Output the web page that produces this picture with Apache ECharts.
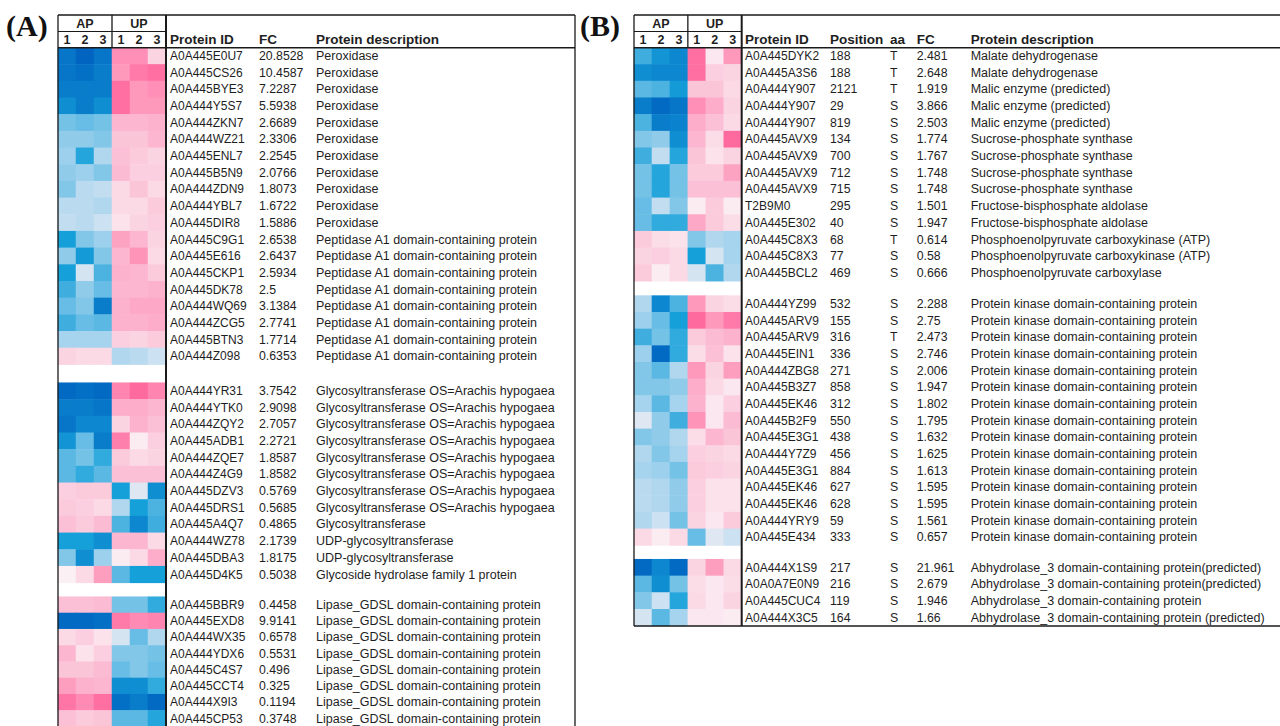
<!DOCTYPE html>
<html><head><meta charset="utf-8">
<script src="https://cdn.jsdelivr.net/npm/echarts@6/dist/echarts.min.js"></script>
<style>html,body{margin:0;padding:0;background:#fff}#c{width:1280px;height:726px}</style>
</head><body><div id="c"></div><script>
// ---------- tick / header labels ----------
const sampleCols = ['1', '2', '3', '1', '2', '3'];
const groupLabels = ['AP', 'UP'];
const headersA = ['Protein ID', 'FC', 'Protein description'];
const headersB = ['Protein ID', 'Position', 'aa', 'FC', 'Protein description'];

// ---------- Panel A (null = separator row) ----------
const protIdA = [
 'A0A445E0U7','A0A445CS26','A0A445BYE3','A0A444Y5S7','A0A444ZKN7','A0A444WZ21','A0A445ENL7','A0A445B5N9','A0A444ZDN9','A0A444YBL7','A0A445DIR8',
 'A0A445C9G1','A0A445E616','A0A445CKP1','A0A445DK78','A0A444WQ69','A0A444ZCG5','A0A445BTN3','A0A444Z098',
 null,
 'A0A444YR31','A0A444YTK0','A0A444ZQY2','A0A445ADB1','A0A444ZQE7','A0A444Z4G9','A0A445DZV3','A0A445DRS1','A0A445A4Q7','A0A444WZ78','A0A445DBA3','A0A445D4K5',
 null,
 'A0A445BBR9','A0A445EXD8','A0A444WX35','A0A444YDX6','A0A445C4S7','A0A445CCT4','A0A444X9I3','A0A445CP53'
];
const fcA = [
 '20.8528','10.4587','7.2287','5.5938','2.6689','2.3306','2.2545','2.0766','1.8073','1.6722','1.5886',
 '2.6538','2.6437','2.5934','2.5','3.1384','2.7741','1.7714','0.6353',
 null,
 '3.7542','2.9098','2.7057','2.2721','1.8587','1.8582','0.5769','0.5685','0.4865','2.1739','1.8175','0.5038',
 null,
 '0.4458','9.9141','0.6578','0.5531','0.496','0.325','0.1194','0.3748'
];
const descA = [
 'Peroxidase','Peroxidase','Peroxidase','Peroxidase','Peroxidase','Peroxidase','Peroxidase','Peroxidase','Peroxidase','Peroxidase','Peroxidase',
 'Peptidase A1 domain-containing protein','Peptidase A1 domain-containing protein','Peptidase A1 domain-containing protein','Peptidase A1 domain-containing protein',
 'Peptidase A1 domain-containing protein','Peptidase A1 domain-containing protein','Peptidase A1 domain-containing protein','Peptidase A1 domain-containing protein',
 null,
 'Glycosyltransferase OS=Arachis hypogaea','Glycosyltransferase OS=Arachis hypogaea','Glycosyltransferase OS=Arachis hypogaea','Glycosyltransferase OS=Arachis hypogaea',
 'Glycosyltransferase OS=Arachis hypogaea','Glycosyltransferase OS=Arachis hypogaea','Glycosyltransferase OS=Arachis hypogaea','Glycosyltransferase OS=Arachis hypogaea',
 'Glycosyltransferase','UDP-glycosyltransferase','UDP-glycosyltransferase','Glycoside hydrolase family 1 protein',
 null,
 'Lipase_GDSL domain-containing protein','Lipase_GDSL domain-containing protein','Lipase_GDSL domain-containing protein','Lipase_GDSL domain-containing protein',
 'Lipase_GDSL domain-containing protein','Lipase_GDSL domain-containing protein','Lipase_GDSL domain-containing protein','Lipase_GDSL domain-containing protein'
];
// relative abundance (AP1, AP2, AP3, UP1, UP2, UP3); negative = blue, positive = pink
const heatA = [
 [-2.7,-3.0,-2.7, 2.0, 2.0, 0.6],
 [-2.7,-2.8,-2.6, 1.8, 2.4, 2.6],
 [-2.6,-2.6,-2.6, 2.6, 1.8, 2.0],
 [-2.3,-2.6,-2.3, 2.6, 1.8, 1.8],
 [-1.3,-1.4,-1.3, 1.2, 1.2, 1.3],
 [-1.1,-1.1,-1.2, 0.9, 0.9, 1.2],
 [-1.0,-1.9,-0.8, 1.0, 0.8, 0.6],
 [-1.1,-1.0,-1.2, 1.1, 0.7, 0.7],
 [-1.2,-0.7,-0.6, 0.5, 0.9, 0.5],
 [-0.7,-0.7,-0.8, 0.5, 0.5, 0.8],
 [-0.6,-0.7,-0.5, 0.3, 0.6, 0.7],
 [-2.0,-1.2,-1.0, 1.6, 1.2, 0.6],
 [-1.1,-2.1,-1.2, 1.2, 1.9, 0.5],
 [-2.0,-0.4,-1.6, 1.3, 1.2, 0.8],
 [-1.7,-1.1,-1.4, 1.2, 1.2, 1.3],
 [-1.4,-1.2,-2.6, 1.3, 1.5, 1.5],
 [-1.7,-1.4,-1.5, 1.3, 1.3, 1.4],
 [-0.9,-0.9,-0.9, 0.7, 0.6, 0.8],
 [ 0.6, 0.5, 0.5,-0.8,-0.7,-0.5],
 null,
 [-2.9,-2.8,-2.9, 2.2, 2.7, 2.2],
 [-2.6,-2.6,-2.7, 1.4, 1.4, 1.2],
 [-2.7,-2.4,-2.4, 0.6, 1.3, 1.0],
 [-2.2,-1.4,-2.6, 2.3, 0.1, 0.7],
 [-1.5,-1.3,-1.8, 0.8, 0.5, 0.6],
 [-1.5,-1.8,-1.5, 1.0, 1.0, 1.0],
 [ 0.7, 0.8, 0.8,-2.0,-0.3,-2.3],
 [ 0.8, 0.7, 0.5,-0.8,-2.0,-1.6],
 [ 1.0, 0.8, 1.1,-1.6,-2.4,-1.7],
 [-2.0,-2.0,-2.3, 1.2, 1.2, 0.5],
 [-1.2,-2.3,-1.0, 0.1, 0.5, 1.4],
 [ 0.0, 0.5, 1.7,-1.5,-2.0,-2.0],
 null,
 [ 1.0, 1.0, 1.1,-1.3,-1.3,-1.8],
 [-2.9,-2.9,-2.8, 2.4, 2.1, 2.2],
 [ 0.5, 0.7, 0.3,-0.4,-1.4,-0.8],
 [ 1.2, 0.3, 0.7,-1.2,-1.2,-1.3],
 [ 0.9, 0.9, 1.1,-1.4,-1.2,-1.4],
 [ 1.7, 1.3, 1.2,-2.3,-2.3,-1.8],
 [ 2.5, 2.1, 2.6,-2.8,-2.6,-2.9],
 [ 1.0, 0.8, 0.9,-1.5,-1.5,-1.9]
];

// ---------- Panel B ----------
const protIdB = [
 'A0A445DYK2','A0A445A3S6','A0A444Y907','A0A444Y907','A0A444Y907','A0A445AVX9','A0A445AVX9','A0A445AVX9','A0A445AVX9','T2B9M0','A0A445E302','A0A445C8X3','A0A445C8X3','A0A445BCL2',
 null,
 'A0A444YZ99','A0A445ARV9','A0A445ARV9','A0A445EIN1','A0A444ZBG8','A0A445B3Z7','A0A445EK46','A0A445B2F9','A0A445E3G1','A0A444Y7Z9','A0A445E3G1','A0A445EK46','A0A445EK46','A0A444YRY9','A0A445E434',
 null,
 'A0A444X1S9','A0A0A7E0N9','A0A445CUC4','A0A444X3C5'
];
const positionB = [188,188,2121,29,819,134,700,712,715,295,40,68,77,469, null,
 532,155,316,336,271,858,312,550,438,456,884,627,628,59,333, null, 217,216,119,164];
const aaB = ['T','T','T','S','S','S','S','S','S','S','S','T','S','S', null,
 'S','S','T','S','S','S','S','S','S','S','S','S','S','S','S', null, 'S','S','S','S'];
const fcB = ['2.481','2.648','1.919','3.866','2.503','1.774','1.767','1.748','1.748','1.501','1.947','0.614','0.58','0.666', null,
 '2.288','2.75','2.473','2.746','2.006','1.947','1.802','1.795','1.632','1.625','1.613','1.595','1.595','1.561','0.657', null,
 '21.961','2.679','1.946','1.66'];
const descB = [
 'Malate dehydrogenase','Malate dehydrogenase','Malic enzyme (predicted)','Malic enzyme (predicted)','Malic enzyme (predicted)',
 'Sucrose-phosphate synthase','Sucrose-phosphate synthase','Sucrose-phosphate synthase','Sucrose-phosphate synthase',
 'Fructose-bisphosphate aldolase','Fructose-bisphosphate aldolase',
 'Phosphoenolpyruvate carboxykinase (ATP)','Phosphoenolpyruvate carboxykinase (ATP)','Phosphoenolpyruvate carboxylase',
 null,
 'Protein kinase domain-containing protein','Protein kinase domain-containing protein','Protein kinase domain-containing protein',
 'Protein kinase domain-containing protein','Protein kinase domain-containing protein','Protein kinase domain-containing protein',
 'Protein kinase domain-containing protein','Protein kinase domain-containing protein','Protein kinase domain-containing protein',
 'Protein kinase domain-containing protein','Protein kinase domain-containing protein','Protein kinase domain-containing protein',
 'Protein kinase domain-containing protein','Protein kinase domain-containing protein','Protein kinase domain-containing protein',
 null,
 'Abhydrolase_3 domain-containing protein(predicted)','Abhydrolase_3 domain-containing protein(predicted)',
 'Abhydrolase_3 domain-containing protein','Abhydrolase_3 domain-containing protein (predicted)'
];
const heatB = [
 [-1.7,-2.2,-2.4, 2.6, 0.2, 1.8],
 [-2.3,-2.4,-2.4, 2.6, 0.7, 0.6],
 [-1.5,-1.6,-2.1, 0.9, 0.9, 0.5],
 [-2.6,-2.9,-2.7, 2.0, 1.4, 0.6],
 [-1.6,-2.6,-2.5, 1.4, 1.0, 0.5],
 [-1.2,-1.1,-2.3, 1.2, 0.4, 2.7],
 [-1.7,-0.6,-1.9, 0.9, 0.3, 0.6],
 [-1.3,-1.9,-1.3, 0.8, 0.8, 1.6],
 [-1.3,-1.9,-1.3, 1.0, 1.0, 1.0],
 [-1.4,-0.6,-1.2, 0.1, 0.8, 0.1],
 [-1.4,-1.8,-1.8, 1.5, 0.8, 0.4],
 [ 0.8, 0.4, 0.3,-1.2,-0.8,-0.9],
 [ 0.6, 0.7, 0.5,-2.0,-0.4,-0.9],
 [ 0.8, 0.1, 0.5,-0.4,-1.6,-0.8],
 null,
 [-0.8,-2.4,-1.6, 1.8, 0.6, 0.4],
 [-1.0,-1.4,-2.0, 2.7, 1.8, 2.4],
 [-1.7,-1.3,-1.8, 0.8, 1.1, 1.3],
 [-1.0,-2.9,-1.8, 0.4, 1.0, 0.3],
 [-1.2,-1.5,-0.8, 1.8, 0.6, 1.7],
 [-1.2,-1.2,-1.1, 1.4, 0.5, 0.2],
 [-0.9,-1.5,-0.9, 1.3, 0.2, 0.7],
 [-0.3,-1.1,-1.7, 1.9, 0.2, 1.1],
 [-1.2,-1.1,-0.8, 0.4, 1.2, 0.9],
 [-0.8,-1.2,-0.9, 0.7, 0.6, 0.5],
 [-0.9,-1.0,-1.3, 0.8, 0.7, 0.6],
 [-0.7,-0.8,-1.1, 0.7, 0.3, 0.3],
 [-0.7,-0.8,-1.1, 0.7, 0.3, 0.3],
 [-0.8,-0.5,-1.3, 0.6, 0.2, 0.8],
 [ 0.5, 0.1, 0.5,-1.4,-0.3,-0.5],
 null,
 [-2.9,-2.4,-2.9, 0.6, 1.7, 0.5],
 [-1.5,-2.3,-1.3, 0.4, 0.2, 0.4],
 [-1.2,-0.5,-1.9, 0.5, 0.2, 0.6],
 [-0.4,-1.5,-0.9, 0.2, 0.2, 0.1]
];

// ---------- layout ----------
const FONT = '"Liberation Sans", Arial, sans-serif';
const TXT = '#1e1e1e';
const HEAD_TOP = 15, HEAD_MID = 31.5, HEAD_BOT = 47.7;
const panels = [
  { label: '(A)', labelX: 6, ids: protIdA, heat: heatA, left: 58, cellRight: 166, right: 575, bottom: 760,
    tops: [47.7, 382.7, 596.7], rowH: [16.68, 16.68, 16.25], closeBottom: false, closeRight: true,
    cols: [{arr: protIdA, x: 170, fs: 12}, {arr: fcA, x: 259, fs: 12.3}, {arr: descA, x: 316, fs: 12.5}], headers: headersA },
  { label: '(B)', labelX: 580, ids: protIdB, heat: heatB, left: 634, cellRight: 741.7, right: 1280, bottom: 626,
    tops: [47.7, 295.6, 559.2], rowH: [16.68, 16.66, 16.68], closeBottom: true, closeRight: false,
    cols: [{arr: protIdB, x: 745, fs: 12}, {arr: positionB, x: 830, fs: 12.3}, {arr: aaB, x: 890, fs: 12.3},
           {arr: fcB, x: 916.7, fs: 12.3}, {arr: descB, x: 970.7, fs: 12.5}], headers: headersB }
];

function splitBlocks(arr) {
  const out = []; let cur = [];
  arr.forEach((v, i) => { if (v === null) { if (cur.length) out.push(cur); cur = []; } else cur.push(i); });
  if (cur.length) out.push(cur);
  return out;
}

const grid = [], xAxis = [], yAxis = [], series = [], graphic = [];
const heatSeriesIdx = [];
const line = (x1, y1, x2, y2, w) => ({ type: 'line', silent: true, z: 50,
  shape: { x1, y1, x2, y2 }, style: { stroke: '#1a1a1a', lineWidth: w || 1.3 } });

panels.forEach(p => {
  const blocks = splitBlocks(p.ids);
  blocks.forEach((idx, bi) => {
    const g = grid.length;
    grid.push({ left: p.left, top: p.tops[bi], width: p.cellRight - p.left, height: idx.length * p.rowH[bi],
      containLabel: false, outerBoundsMode: 'none' });
    const xi = xAxis.length;
    xAxis.push({ type: 'category', gridIndex: g, data: sampleCols, position: 'top', show: bi === 0,
      axisLine: { show: false }, axisTick: { show: false }, splitLine: { show: false },
      axisLabel: { margin: 1, fontWeight: 'bold', fontSize: 12.5, color: TXT, fontFamily: FONT, interval: 0 } });
    if (bi === 0) {
      xAxis.push({ type: 'category', gridIndex: g, data: groupLabels, position: 'top', offset: 16.5,
        axisLine: { show: false }, axisTick: { show: false }, splitLine: { show: false },
        axisLabel: { margin: 1, fontWeight: 'bold', fontSize: 12.5, color: TXT, fontFamily: FONT, interval: 0 } });
    }
    const cats = idx.map(String);
    const yi = yAxis.length;
    yAxis.push({ type: 'category', gridIndex: g, data: cats, inverse: true, show: false });
    p.cols.forEach(c => {
      yAxis.push({ type: 'category', gridIndex: g, data: cats, inverse: true, position: 'right',
        offset: c.x - p.cellRight, axisLine: { show: false }, axisTick: { show: false }, splitLine: { show: false },
        axisLabel: { margin: 0, interval: 0, fontSize: c.fs, color: TXT, fontFamily: FONT,
          formatter: v => String(c.arr[+v]) } });
    });
    heatSeriesIdx.push(series.length);
    series.push({ type: 'heatmap', xAxisIndex: xi, yAxisIndex: yi, silent: true,
      itemStyle: { borderWidth: 0 },
      data: idx.flatMap((gi, r) => p.heat[gi].map((v, c) => [c, r, v])) });
  });

  // borders
  const mid = (p.left + p.cellRight) / 2;
  graphic.push(line(p.left, HEAD_TOP, p.right, HEAD_TOP));
  graphic.push(line(p.left, HEAD_MID, p.cellRight, HEAD_MID, 1.1));
  graphic.push(line(p.left, HEAD_BOT, p.right, HEAD_BOT, 1.5));
  graphic.push(line(p.left, HEAD_TOP, p.left, p.bottom, 1.3));
  graphic.push(line(mid, HEAD_TOP, mid, HEAD_BOT, 1.3));
  graphic.push(line(p.cellRight, HEAD_TOP, p.cellRight, p.bottom, 2));
  if (p.closeRight) graphic.push(line(p.right, HEAD_TOP, p.right, p.bottom, 1.3));
  if (p.closeBottom) graphic.push(line(p.left, p.bottom, p.right, p.bottom, 1.5));
  // column headers
  p.cols.forEach((c, i) => graphic.push({ type: 'text', silent: true, z: 50, x: c.x, y: (HEAD_MID + HEAD_BOT) / 2 + 0.3,
    style: { text: p.headers[i], font: 'bold 13.5px ' + FONT, fill: TXT, textVerticalAlign: 'middle', verticalAlign: 'middle' } }));
  // panel label
  graphic.push({ type: 'text', silent: true, z: 50, x: p.labelX, y: 25,
    style: { text: p.label, font: 'bold 30px "Liberation Serif", "Times New Roman", serif', fill: '#111',
      textVerticalAlign: 'middle', verticalAlign: 'middle' } });
});

const chart = echarts.init(document.getElementById('c'), null, { renderer: 'svg', width: 1280, height: 726 });
chart.setOption({
  backgroundColor: '#ffffff',
  animation: false,
  grid, xAxis, yAxis, series, graphic,
  visualMap: { type: 'continuous', show: false, min: -3, max: 3, dimension: 2, seriesIndex: heatSeriesIdx,
    inRange: { color: ['#0064c0', '#16a0da', '#9dd0ec', '#fbf1f5', '#fbc0d5', '#ff8fb6', '#ff5a93'] } }
});
</script></body></html>
